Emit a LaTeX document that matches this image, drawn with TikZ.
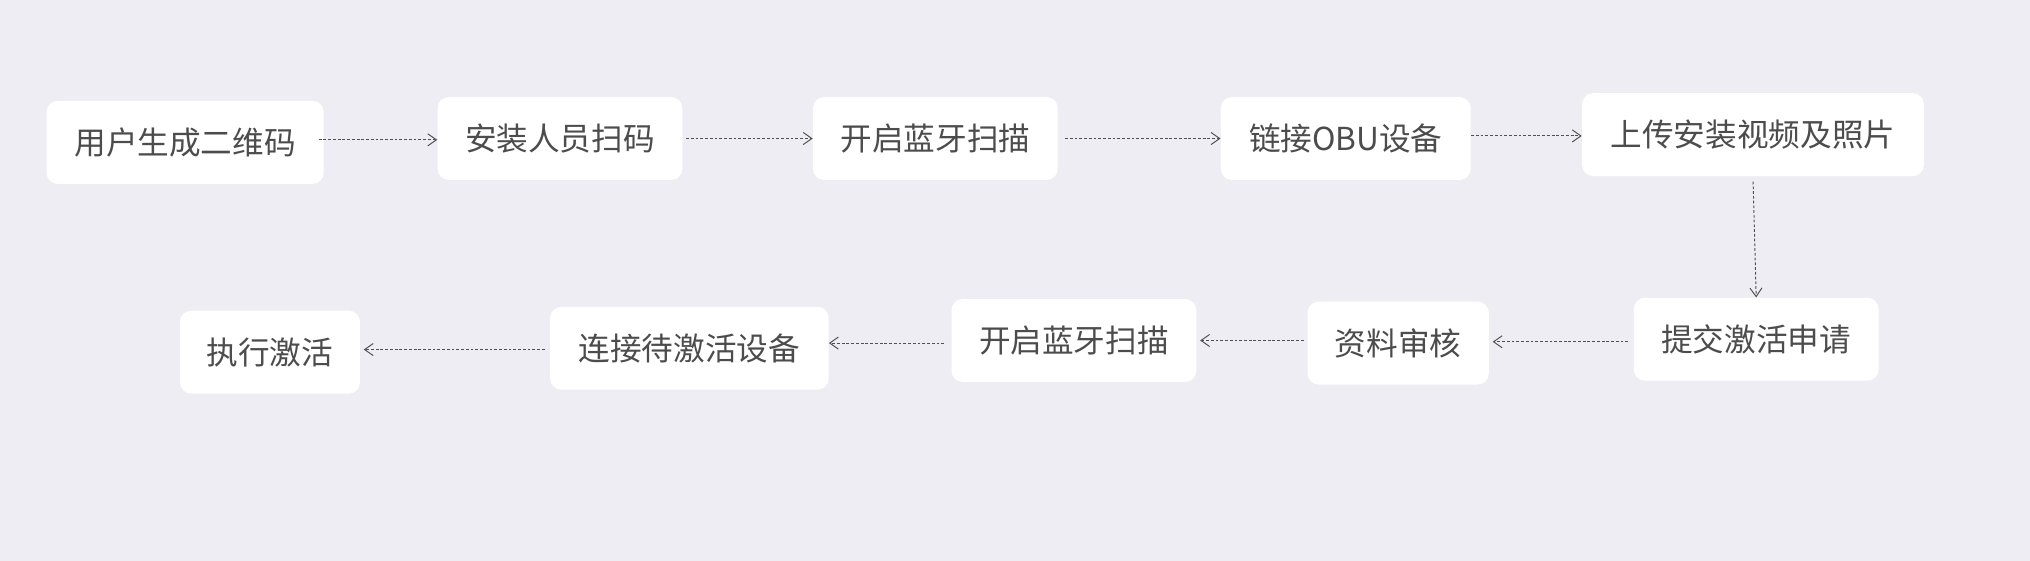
\documentclass[tikz,border=0pt]{standalone}
\usepackage{fontspec}
\setmainfont{Noto Sans CJK SC}
\usetikzlibrary{arrows.meta}
\definecolor{bg}{HTML}{EEEDF3}
\definecolor{txt}{HTML}{4C4C4C}
\definecolor{ln}{HTML}{505050}
\tikzset{
  box/.style={fill=white, draw=none, rounded corners=0.22cm, inner sep=0pt,
    minimum height=1.657cm, font=\fontsize{18}{18}\selectfont, text=txt},
  arr/.style={draw=ln, line width=0.55pt, dash pattern=on 1.6pt off 1.1pt,
    -{Straight Barb[angle=70:6pt, line width=0.55pt]}}
}
\begin{document}
\begin{tikzpicture}[x=0.025892cm, y=-0.025892cm]
\fill[bg] (0,0) rectangle (1568,433);
\useasboundingbox (0,0) rectangle (1568,433);
% top row
\node[box, minimum width=5.541cm] (b1) at (143,110) {用户生成二维码};
\node[box, minimum width=4.894cm] (b2) at (432.5,107) {安装人员扫码};
\node[box, minimum width=4.894cm] (b3) at (722.5,107) {开启蓝牙扫描};
\node[box, minimum width=4.997cm] (b4) at (1039.5,107) {链接OBU设备};
\node[box, minimum width=6.835cm] (b5) at (1354,104) {上传安装视频及照片};
% bottom row
\node[box, minimum width=4.894cm] (b6) at (1356.5,262) {提交激活申请};
\node[box, minimum width=3.625cm] (b7) at (1080,265) {资料审核};
\node[box, minimum width=4.894cm] (b8) at (829.5,263) {开启蓝牙扫描};
\node[box, minimum width=5.567cm] (b9) at (532.5,269) {连接待激活设备};
\node[box, minimum width=3.599cm] (b10) at (208.5,272) {执行激活};
% connectors
\draw[arr, shorten <=-3pt] (b1.east |- 0,108) -- (b2.west |- 0,108);
\draw[arr, shorten <=2pt] (b2.east) -- (b3.west);
\draw[arr, shorten <=4pt] (b3.east) -- (b4.west);
\draw[arr] (b4.east |- 0,105) -- (b5.west |- 0,105);
\draw[arr, shorten <=3pt] (b5.south) -- (b6.north);
\draw[arr, shorten <=3pt, shorten >=2pt] (b6.west |- 0,264) -- (b7.east |- 0,264);
\draw[arr, shorten <=2pt, shorten >=2pt] (b7.west |- 0,263) -- (b8.east |- 0,263);
\draw[arr, shorten <=4pt] (b8.west |- 0,265) -- (b9.east |- 0,265);
\draw[arr, shorten <=3pt, shorten >=2pt] (b9.west |- 0,270) -- (b10.east |- 0,270);
\end{tikzpicture}
\end{document}
